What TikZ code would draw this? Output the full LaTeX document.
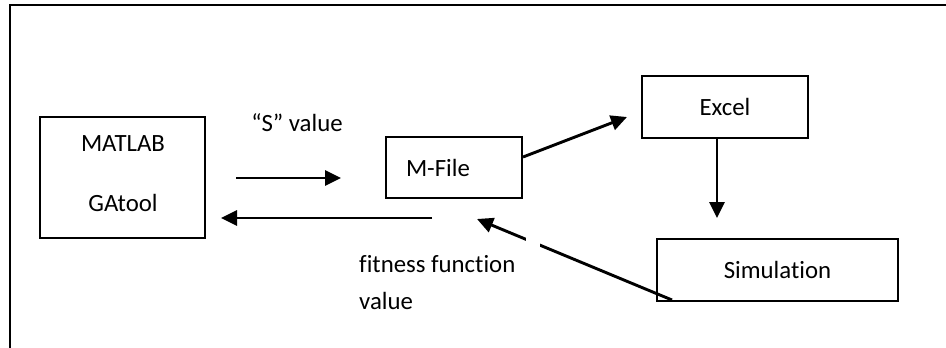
\documentclass[tikz,border=0pt]{standalone}
\usepackage{fontspec}
\setmainfont[Ligatures={NoCommon}]{Carlito}
\usetikzlibrary{arrows.meta}
\begin{document}
\begin{tikzpicture}[x=1pt,y=-1pt,
  every node/.style={font=\fontsize{24.8}{37}\selectfont},
  boxnode/.style={draw, line width=2.1pt, inner sep=0pt},
  txt/.style={inner sep=0pt, align=left},
  conn/.style={line width=2.9pt, -{Triangle[length=16pt,width=15pt]}},
  frame/.style={line width=2.8pt}]
\useasboundingbox (0,0) rectangle (946,348);
% outer frame (top and left only)
\draw[frame] (946,5) -- (10,5) -- (10,348);
% boxes
\node[boxnode, minimum width=165pt, minimum height=121pt] (matlab) at (122.5,177.5) {};
\node[txt, align=center, font=\fontsize{24.8}{60}\selectfont] (matlabtxt) at (123,173.5) {MATLAB\\GAtool};
\node[boxnode, minimum height=61pt, text width=96pt, inner xsep=20pt, align=left] (mfile) at (454,167.5) {M-File};
\node[boxnode, minimum width=166pt, minimum height=62pt] (excel) at (725,107) {Excel};
\node[boxnode, minimum width=241pt, minimum height=62pt] (sim) at (777.5,270) {Simulation};
% labels
\node[txt] (sval) at (297,123) {“S” value};
\node[txt, anchor=north west] (fit) at (359,255) {fitness function\\value};
% free ends
\coordinate (a1s) at (236,178);
\coordinate (a1e) at (341,178);
\coordinate (a2s) at (432,218);
\coordinate (a2e) at (221,218);
\coordinate (a3e) at (627,117);
\coordinate (a4e) at (717,218);
\coordinate (a5s) at (672,300);
\coordinate (a5e) at (477,219);
% connectors
\draw[conn] (a1s) -- (a1e);
\draw[conn] (a2s) -- (a2e);
\draw[conn] (mfile.east |- 0,157) -- (a3e);
\draw[conn] (excel.south -| a4e) -- (a4e);
\draw[conn] (a5s) -- (a5e);
% gap in the return connector
\fill[white] (526,232) rectangle (540,252);
\end{tikzpicture}
\end{document}
